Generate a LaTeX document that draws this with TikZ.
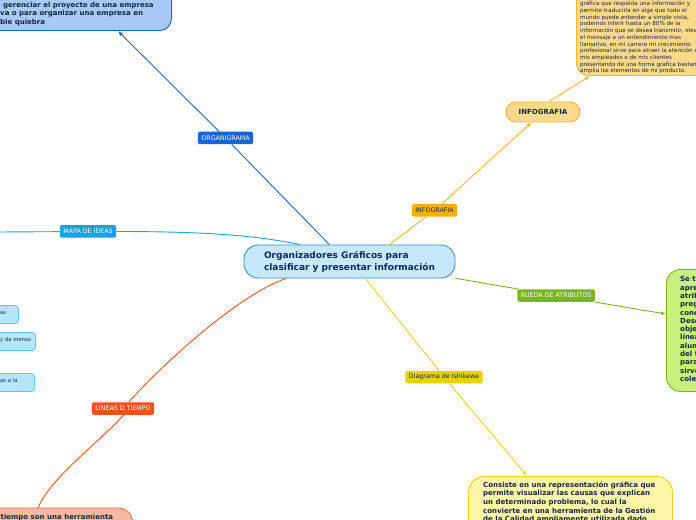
\documentclass[tikz,border=0pt]{standalone}
\usepackage{fontspec}
\setmainfont{DejaVu Sans}
\usetikzlibrary{arrows.meta,calc,positioning}
\definecolor{ink}{HTML}{13283A}
\definecolor{rootink}{HTML}{0B2A5B}
\definecolor{rootfill}{HTML}{C6E8FA}
\definecolor{rootline}{HTML}{3A8FD8}
\definecolor{orgblue}{HTML}{1766D6}
\definecolor{orgfill}{HTML}{A9C8F8}
\definecolor{mapblue}{HTML}{17A2E6}
\definecolor{sidefill}{HTML}{B6E6FC}
\definecolor{sideline}{HTML}{62C6F2}
\definecolor{infoyel}{HTML}{F8B42A}
\definecolor{infotag}{HTML}{F9B000}
\definecolor{infofill}{HTML}{FDD98C}
\definecolor{ruedagreen}{HTML}{7AB51D}
\definecolor{ruedafill}{HTML}{C8F07C}
\definecolor{ishiyel}{HTML}{E8D411}
\definecolor{ishitag}{HTML}{E4D300}
\definecolor{ishifill}{HTML}{FFF5A8}
\definecolor{timered}{HTML}{F4511E}
\definecolor{timefill}{HTML}{F8B8A2}
\tikzset{>={Latex[length=5bp,width=4bp]},
  every node/.style={font=\fontsize{6.3bp}{7.5bp}\selectfont},
  link/.style={line width=.9bp},
  tag/.style={minimum height=12.5bp,inner xsep=3.5bp,inner ysep=0pt,rounded corners=1.5bp,text=white},
  card/.style={draw,line width=.9bp,rounded corners=12bp},
  cardtext/.style={inner sep=0pt,align=left,text=ink,font=\fontsize{7bp}{8.5bp}\selectfont\bfseries},
  smalltext/.style={inner sep=0pt,align=left,text=ink}}

\begin{document}
\begin{tikzpicture}[x=1bp,y=-1bp]
\useasboundingbox (0,0) rectangle (696,520);
\clip (0,0) rectangle (696,520);
\node[draw=rootline,fill=rootfill,line width=.9bp,rounded corners=14bp,minimum width=211bp,minimum height=33bp,
  align=left,text=rootink,font=\fontsize{9bp}{12bp}\selectfont\bfseries] (root) at (349.5,261.5)
  {Organizadores Gráficos para\\clasificar y presentar información};
% cards
\node[card,draw=orgblue,fill=orgfill,minimum width=200bp,minimum height=100bp,anchor=south east] (orgbox) at (172,31) {};
\node[cardtext,anchor=north west] (orgtext) at (0,1.5)
  {\hspace*{3bp}gerenciar el proyecto de una empresa\\va o para organizar una empresa en\\ble quiebra};
\node[card,draw=infoyel,fill=infofill,minimum width=160bp,minimum height=130bp,anchor=south west] (infobox) at (576,76) {};
\node[smalltext,anchor=north west,font=\fontsize{5.6bp}{6.7bp}\selectfont] (infotext) at (580,1.2)
  {gráfica que respalda una información y\\permite traducirla en algo que todo el\\mundo puede entender a simple vista,\\
   podemos inferir hasta un 80\% de la\\información que se desea transmitir, elev\\el mensaje a un entendimiento mas\\
   llamativo, en mi carrera mi crecimiento\\profesional sirve para atraer la atención d\\mis empleados o de mis clientes\\
   presentando de una forma grafica bastant\\amplia los elementos de mi producto.};
\node[card,draw=infoyel,fill=infofill,rounded corners=10bp,minimum width=74bp,minimum height=20bp,
  text=ink,font=\fontsize{7bp}{8bp}\selectfont\bfseries] (infonode) at (543,112) {INFOGRAFIA};
\node[card,draw=ruedagreen,fill=ruedafill,rounded corners=14bp,minimum width=80bp,minimum height=122bp,anchor=north west] (ruedabox) at (666,269) {};
\node[cardtext,anchor=north west,font=\fontsize{7bp}{8.3bp}\selectfont\bfseries] (ruedatext) at (680,276.5)
  {Se t\\apre\\atrib\\preg\\conc\\Desc\\obje\\línea\\alum\\del t\\para\\sirve\\cole};
\node[card,draw=ishiyel,fill=ishifill,rounded corners=16bp,minimum width=204bp,minimum height=90bp,anchor=north west] (ishibox) at (468,476) {};
\node[cardtext,anchor=north west,font=\fontsize{7bp}{8.6bp}\selectfont\bfseries] (ishitext) at (483,481.5)
  {Consiste en una representación gráfica que\\permite visualizar las causas que explican\\un determinado problema, lo cual la\\
   convierte en una herramienta de la Gestión\\de la Calidad ampliamente utilizada dado};
\node[card,draw=timered!80,fill=timefill,rounded corners=14bp,minimum width=180bp,minimum height=60bp,anchor=north east] (timebox) at (133,507.5) {};
\node[cardtext,anchor=north west] (timetext) at (0.5,513.5) {tiempo son una herramienta};
\foreach \r/\t/\txt/\n in {19/305/as/a,36/332/y da menos/b,35/373/as a la/c}{
  \node[draw=sideline,fill=sidefill,line width=.9bp,rounded corners=3.5bp,minimum width=\r+20,minimum height=18bp,anchor=north east] (side\n) at (\r,\t) {};
  \node[smalltext,anchor=west,font=\fontsize{5.3bp}{6bp}\selectfont] at (0,\t+8) {\txt};
}
% tags
\node[tag,fill=orgblue] (organigrama) at (225.5,138) {ORGANIGRAMA};
\node[tag,fill=mapblue] (mapa) at (88,231.5) {MAPA DE IDEAS};
\node[tag,fill=infotag,text=ink] (infografia) at (434.5,210.5) {INFOGRAFIA};
\node[tag,fill=ruedagreen] (rueda) at (556,295.5) {RUEDA DE ATRIBUTOS};
\node[tag,fill=ishitag,text=ink] (ishikawa) at (444,377) {Diagrama de Ishikawa};
\node[tag,fill=timered] (lineas) at (123,408.5) {LINEAS D TIEMPO};
\coordinate (orgend) at (118,31);
\coordinate (mapstart) at (-2,232);
\coordinate (infoend) at (590,76);
\coordinate (ruedaend) at (666,314);
\coordinate (ishiend) at (527,476);
\coordinate (timeend) at (38,508);
% links
\draw[link,orgblue] (root.140) -- (organigrama);
\draw[link,orgblue,->] (organigrama) -- (orgend);
\draw[link,mapblue] (mapstart) -- (mapa);
\draw[link,mapblue] (mapa.east) .. controls +(100,0) and +(-40,-8) .. (root.161);
\draw[link,infoyel] (root.23) -- (infografia);
\draw[link,infoyel,->] (infografia) -- (infonode);
\draw[link,infoyel,->] (infonode.60) -- (infoend);
\draw[link,ruedagreen] (root.-9) -- (rueda);
\draw[link,ruedagreen,->] (rueda) -- (ruedaend);
\draw[link,ishiyel] (root.-47) -- (ishikawa);
\draw[link,ishiyel,->] (ishikawa) -- (ishiend);
\draw[link,timered] (root.195) .. controls +(-45,15) and +(45,-50) .. (lineas);
\draw[link,timered] (lineas.-85) .. controls +(-25,28) and +(12,-30) .. (timeend);
\end{tikzpicture}
\end{document}
